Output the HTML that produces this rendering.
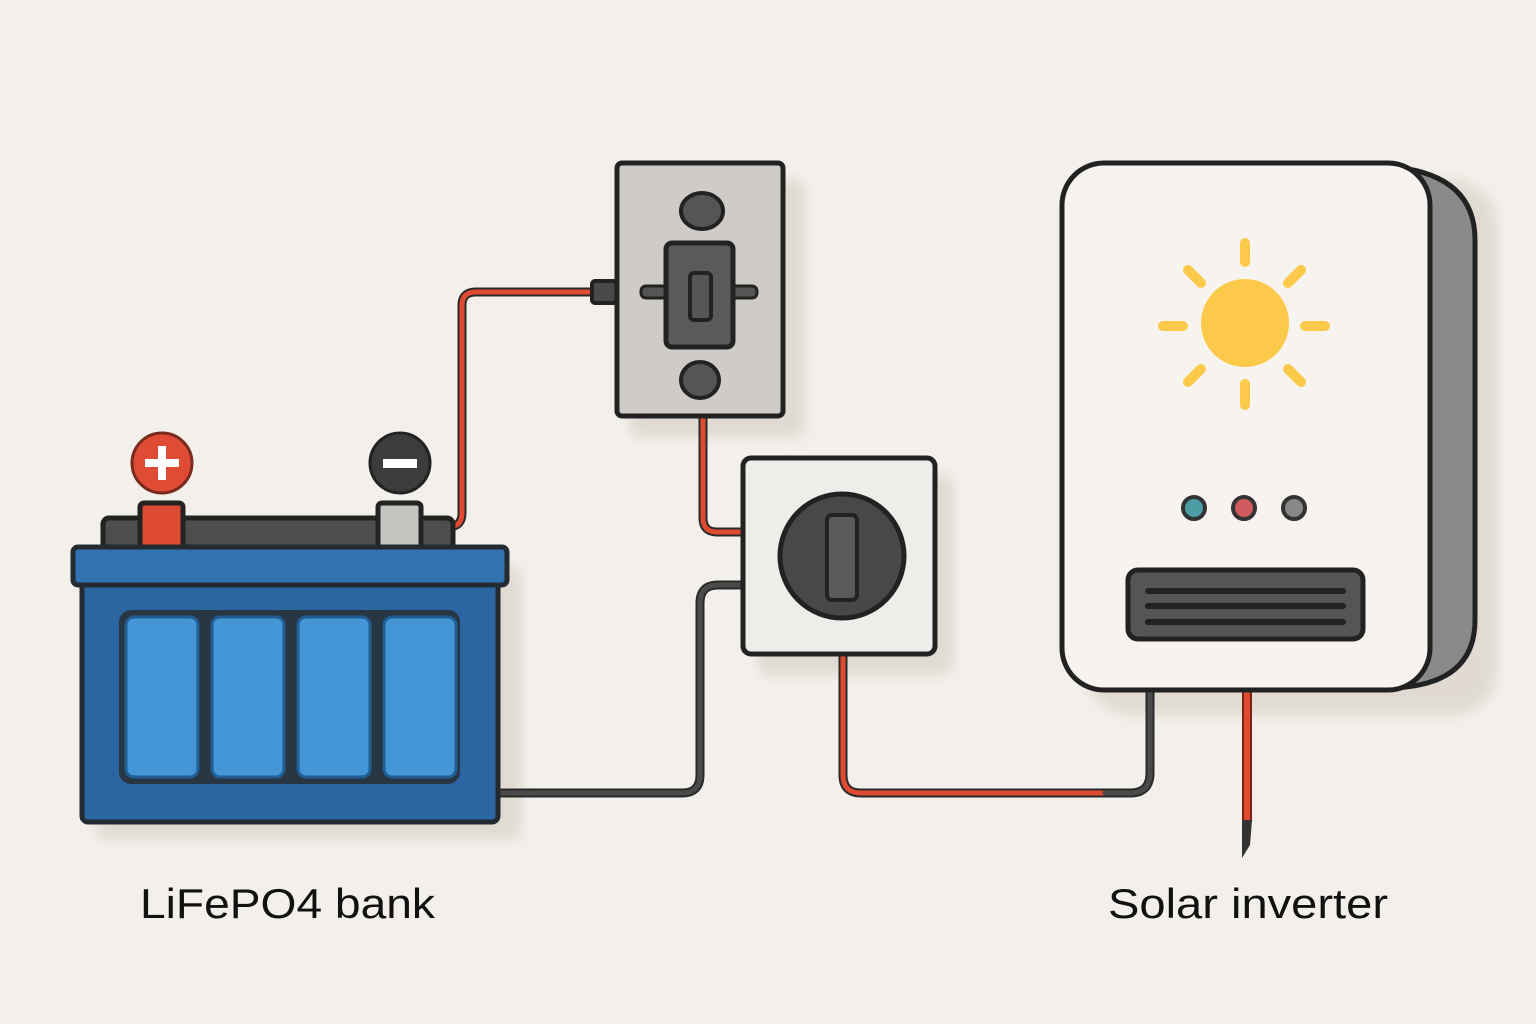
<!DOCTYPE html>
<html><head><meta charset="utf-8"><style>
html,body{margin:0;padding:0;background:#f3f0eb;}
svg{display:block;}
</style></head><body>
<svg width="1536" height="1024" viewBox="0 0 1536 1024" xmlns="http://www.w3.org/2000/svg">
<defs>
<filter id="sh" x="-10%" y="-10%" width="130%" height="130%"><feGaussianBlur stdDeviation="6"/></filter>
</defs>
<rect width="1536" height="1024" fill="#f3f0eb"/>

<!-- shadows -->
<g fill="#d8d2c8" opacity="0.7" filter="url(#sh)">
<rect x="96" y="565" width="425" height="275" rx="10"/>
<rect x="630" y="180" width="175" height="258" rx="10"/>
<rect x="758" y="475" width="195" height="200" rx="10"/>
<rect x="1085" y="180" width="412" height="535" rx="45"/>
</g>

<!-- wires -->
<g fill="none" stroke-linecap="round" stroke-linejoin="round">
<path d="M420 527 H448 Q462 527 462 513 V305 Q462 292 476 292 H600" stroke="#2a2a2a" stroke-width="9"/>
<path d="M420 527 H448 Q462 527 462 513 V305 Q462 292 476 292 H600" stroke="#e04a30" stroke-width="5"/>
<path d="M703 415 V518 Q703 532 717 532 H744" stroke="#2a2a2a" stroke-width="9"/>
<path d="M703 415 V518 Q703 532 717 532 H744" stroke="#e04a30" stroke-width="5"/>
<path d="M498 793 H682 Q700 793 700 775 V603 Q700 585 718 585 H744" stroke="#2a2a2a" stroke-width="9"/>
<path d="M498 793 H682 Q700 793 700 775 V603 Q700 585 718 585 H744" stroke="#4a4a4a" stroke-width="5"/>
<path d="M843 655 V775 Q843 793 861 793 H1130 Q1150 793 1150 773 V690" stroke="#2a2a2a" stroke-width="9"/>
<path d="M843 655 V775 Q843 793 861 793 H1105" stroke="#e04a30" stroke-width="5"/>
<path d="M1105 793 H1130 Q1150 793 1150 773 V690" stroke="#4a4a4a" stroke-width="5"/>
<path d="M1247 690 V820" stroke="#7a2418" stroke-width="10"/>
<path d="M1247 690 V820" stroke="#e04a30" stroke-width="6"/>
</g>
<path d="M1242 820 H1252 L1250 845 L1242 858 Z" fill="#333"/>

<!-- battery -->
<rect x="103" y="518" width="350" height="34" rx="6" fill="#4d4d4d" stroke="#222" stroke-width="5"/>
<rect x="140" y="503" width="43" height="46" rx="4" fill="#dd4a32" stroke="#222" stroke-width="5"/>
<rect x="378" y="503" width="43" height="46" rx="4" fill="#c5c3bf" stroke="#222" stroke-width="5"/>
<rect x="82" y="580" width="416" height="242" rx="6" fill="#2b66a3" stroke="#232a30" stroke-width="5"/>
<rect x="73" y="547" width="434" height="38" rx="5" fill="#3272b0" stroke="#232a30" stroke-width="5"/>
<rect x="119" y="610" width="341" height="174" rx="12" fill="#283644"/>
<g fill="#4596d6" stroke="#1f5d92" stroke-width="3">
<rect x="126" y="617" width="72" height="160" rx="8"/>
<rect x="212" y="617" width="72" height="160" rx="8"/>
<rect x="298" y="617" width="72" height="160" rx="8"/>
<rect x="384" y="617" width="72" height="160" rx="8"/>
</g>
<circle cx="162" cy="463" r="30" fill="#e04b35" stroke="#7a2a1e" stroke-width="3"/>
<rect x="145" y="459" width="34" height="8" fill="#fff"/><rect x="158" y="446" width="8" height="34" fill="#fff"/>
<circle cx="400" cy="463" r="30" fill="#3c3c3c" stroke="#222" stroke-width="3"/>
<rect x="383" y="459" width="34" height="9" fill="#fff"/>

<!-- switch 1 -->
<rect x="592" y="281" width="26" height="22" rx="3" fill="#4a4a4a" stroke="#222" stroke-width="4"/>
<rect x="617" y="163" width="166" height="253" rx="5" fill="#cfccc8" stroke="#222" stroke-width="5"/>
<ellipse cx="702" cy="211" rx="21" ry="18" fill="#555" stroke="#222" stroke-width="4"/>
<ellipse cx="700" cy="380" rx="19" ry="18" fill="#555" stroke="#222" stroke-width="4"/>
<rect x="641" y="286" width="116" height="12" rx="5" fill="#555" stroke="#222" stroke-width="3"/>
<rect x="666" y="243" width="67" height="104" rx="6" fill="#5a5a5a" stroke="#222" stroke-width="5"/>
<rect x="690" y="273" width="21" height="47" rx="4" fill="#555" stroke="#222" stroke-width="4"/>

<!-- switch 2 -->
<rect x="743" y="458" width="192" height="196" rx="8" fill="#efede9" stroke="#222" stroke-width="5"/>
<circle cx="842" cy="556" r="62" fill="#484848" stroke="#222" stroke-width="5"/>
<rect x="827" y="515" width="30" height="85" rx="5" fill="#5a5a5a" stroke="#222" stroke-width="4"/>

<!-- inverter -->
<path d="M1380 166 Q1475 170 1475 240 V620 Q1475 686 1390 688 Z" fill="#8a8a8a" stroke="#222" stroke-width="5"/>
<rect x="1062" y="163" width="368" height="527" rx="42" fill="#f7f4ef" stroke="#222" stroke-width="5"/>
<g stroke="#fcc94a" stroke-width="10" stroke-linecap="round">
<line x1="1245" y1="243" x2="1245" y2="262"/>
<line x1="1245" y1="384" x2="1245" y2="405"/>
<line x1="1163" y1="326" x2="1183" y2="326"/>
<line x1="1305" y1="326" x2="1325" y2="326"/>
<line x1="1188" y1="270" x2="1201" y2="283"/>
<line x1="1288" y1="369" x2="1301" y2="382"/>
<line x1="1188" y1="382" x2="1201" y2="369"/>
<line x1="1288" y1="283" x2="1301" y2="270"/>
</g>
<circle cx="1245" cy="323" r="44" fill="#fcc94a"/>
<circle cx="1194" cy="508" r="11" fill="#4a9ea4" stroke="#333" stroke-width="4"/>
<circle cx="1244" cy="508" r="11" fill="#d05a60" stroke="#333" stroke-width="4"/>
<circle cx="1294" cy="508" r="11" fill="#888" stroke="#333" stroke-width="4"/>
<rect x="1128" y="570" width="235" height="69" rx="10" fill="#555" stroke="#222" stroke-width="5"/>
<g stroke="#222" stroke-width="6" stroke-linecap="round">
<line x1="1148" y1="591" x2="1343" y2="591"/>
<line x1="1148" y1="606" x2="1343" y2="606"/>
<line x1="1148" y1="622" x2="1343" y2="622"/>
</g>

<!-- labels -->
<text x="140" y="918" font-family="Liberation Sans, sans-serif" font-size="42" fill="#111" textLength="295" lengthAdjust="spacingAndGlyphs">LiFePO4 bank</text>
<text x="1108" y="918" font-family="Liberation Sans, sans-serif" font-size="42" fill="#111" textLength="280" lengthAdjust="spacingAndGlyphs">Solar inverter</text>
</svg>
</body></html>
